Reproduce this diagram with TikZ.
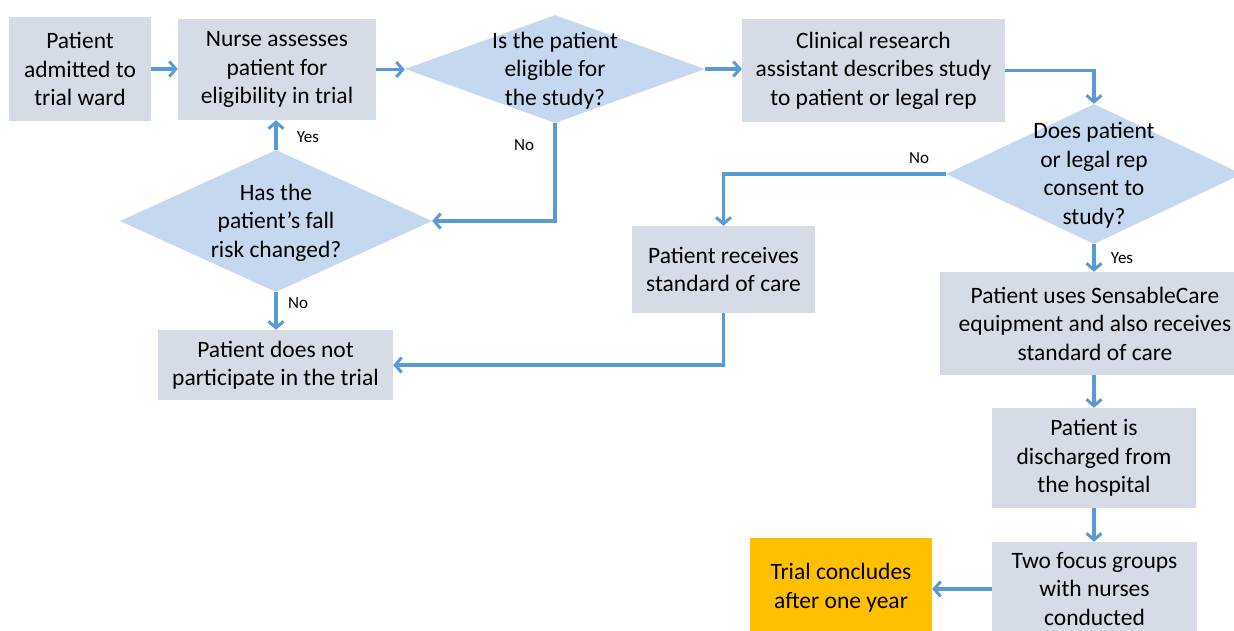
\documentclass[tikz,border=0pt]{standalone}
\usepackage{fontspec}
\setmainfont{Carlito}
\usetikzlibrary{shapes.geometric,arrows.meta}
\definecolor{boxfill}{HTML}{D6DCE5}
\definecolor{diafill}{HTML}{C6D8F0}
\definecolor{flowc}{HTML}{5B9BD5}
\definecolor{endfill}{HTML}{FFC000}
\newcommand\stepfont{\fontsize{23.5}{28.5}\selectfont}
\newcommand\lblfont{\fontsize{17}{20}\selectfont}
\begin{document}
\begin{tikzpicture}[x=1pt,y=-1pt,
  stepbox/.style={rectangle,fill=boxfill,align=center,inner sep=0pt,font=\stepfont},
  endbox/.style={stepbox,fill=endfill},
  decision/.style={diamond,fill=diafill,inner sep=0pt},
  dtext/.style={align=center,inner sep=0pt,font=\stepfont},
  lbl/.style={inner sep=0pt,font=\lblfont},
  flow/.style={draw=flowc,line width=3.2pt,-{Straight Barb[length=6.5pt,width=15pt,line width=3pt]}}]
\useasboundingbox (0,0) rectangle (1234,630);
\begin{scope}
\clip (0,0) rectangle (1234,630);
% process steps
\node[stepbox,minimum width=142pt,minimum height=104pt] (A) at (80,69) {Patient\\admitted to\\trial ward};
\node[stepbox,minimum width=198pt,minimum height=101pt] (B) at (277,69.5) {Nurse assesses\\patient for\\eligibility in trial};
\node[stepbox,minimum width=263pt,minimum height=103pt] (D) at (873.5,70.5) {Clinical research\\assistant describes study\\to patient or legal rep};
\node[stepbox,minimum width=183pt,minimum height=87pt] (F) at (723.5,269.5) {Patient receives\\standard of care};
\node[stepbox,minimum width=310pt,minimum height=103pt] (G) at (1095,323.5) {Patient uses SensableCare\\equipment and also receives\\standard of care};
\node[stepbox,minimum width=204pt,minimum height=100pt] (H) at (1094,458) {Patient is\\discharged from\\the hospital};
\node[stepbox,minimum width=205pt,minimum height=94pt] (I) at (1094.5,589) {Two focus groups\\with nurses\\conducted};
\node[endbox,minimum width=182pt,minimum height=99pt] (J) at (841,587.5) {Trial concludes\\after one year};
\node[stepbox,minimum width=235pt,minimum height=70pt] (L) at (275.5,365) {Patient does not\\participate in the trial};
% decisions
\node[decision,minimum width=300pt,minimum height=108pt] (C) at (555,69) {};
\node[dtext] (Ct) at ([yshift=-1.5pt]C.center) {Is the patient\\eligible for\\the study?};
\node[decision,minimum width=296pt,minimum height=140pt] (E) at (1094,174) {};
\node[dtext] (Et) at ([yshift=-1.5pt]E.center) {Does patient\\or legal rep\\consent to\\study?};
\node[decision,minimum width=312pt,minimum height=142pt] (K) at (276,221) {};
\node[dtext] (Kt) at ([yshift=-1.5pt]K.center) {Has the\\patient’s fall\\risk changed?};
% connectors
\draw[flow] (A.east) -- (A.east -| B.west);
\draw[flow] (B.east) -- (B.east -| C.west);
\draw[flow] (C.east) -- (C.east -| D.west);
\draw[flow] (D.east) -| (E.north);
\draw[flow] (E.west) -| (F.north);
\draw[flow] (E.south) -- (E.south |- G.north);
\draw[flow] (C.south) |- (K.east);
\draw[flow] (K.north) -- (K.north |- B.south);
\draw[flow] (K.south) -- (K.south |- L.north);
\draw[flow] (F.south) |- (L.east);
\draw[flow] (H.north |- G.south) -- (H.north);
\draw[flow] (H.south) -- (H.south |- I.north);
\draw[flow] (I.west) -- (I.west -| J.east);
% branch labels
\node[lbl] (yesK) at (308,137) {Yes};
\node[lbl] (noC) at (524,145) {No};
\node[lbl] (noE) at (919,158) {No};
\node[lbl] (yesE) at (1122,258) {Yes};
\node[lbl] (noK) at (298,303) {No};
\end{scope}
\end{tikzpicture}
\end{document}
